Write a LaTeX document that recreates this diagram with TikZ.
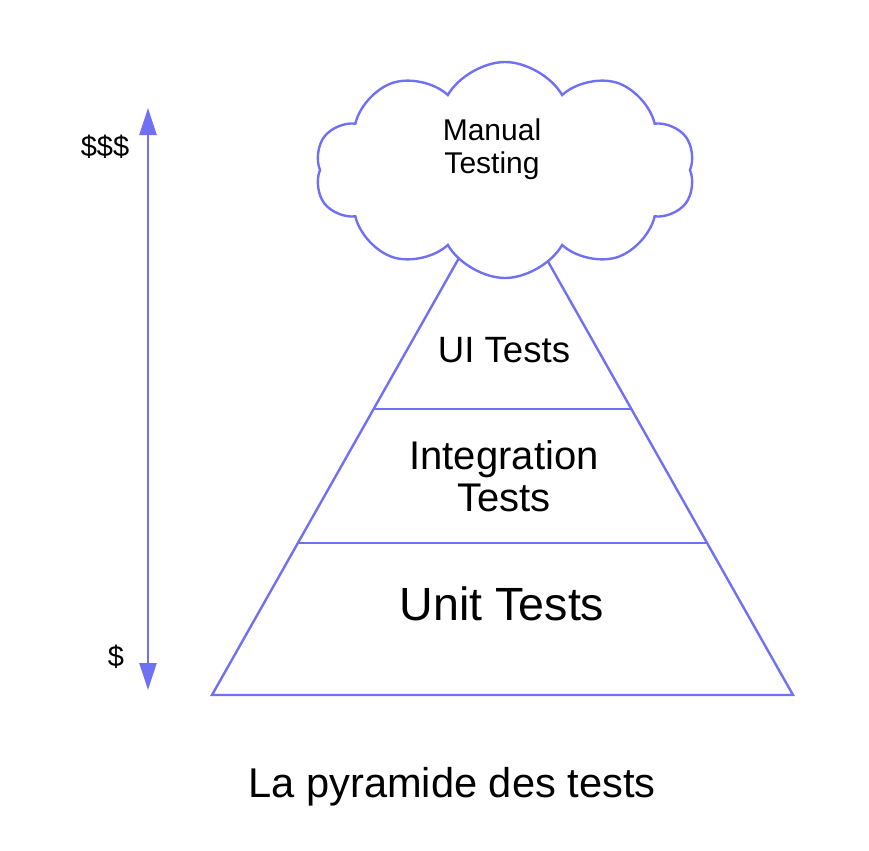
\documentclass[tikz,border=0pt]{standalone}
\usepackage{fontspec}
\setmainfont{Liberation Sans}
\usetikzlibrary{positioning, arrows.meta, shapes.symbols, calc}
\definecolor{pyrblue}{RGB}{112,112,245}

\begin{document}
\begin{tikzpicture}[
    x=0.5pt, y=-0.5pt,
    edge/.style={
        draw=pyrblue,
        line width=1.2pt
    },
    tier/.style={
        align=center,
        inner sep=0pt,
        text=black
    },
    costarrow/.style={
        {Triangle[length=13.5pt,width=8.5pt]}-{Triangle[length=13.5pt,width=8.5pt]},
        draw=pyrblue,
        line width=1.2pt
    }
]

% Frame
\useasboundingbox (0,0) rectangle (869,851);

% Pyramid
\coordinate (apex) at (502.5,181);
\coordinate (bl) at (212,695);
\coordinate (br) at (793,695);
\draw[edge] (apex) -- (bl) -- (br) -- cycle;
\draw[edge] ($(apex)!0.4436!(bl)$) -- ($(apex)!0.4436!(br)$);
\draw[edge] ($(apex)!0.7043!(bl)$) -- ($(apex)!0.7043!(br)$);

% Cloud on top
\node[cloud, edge, fill=white, cloud puffs=10, cloud puff arc=120,
      minimum width=190pt, minimum height=108pt] (cloud) at (505,170) {};

% Nodes
\node[tier, font=\fontsize{15}{16.3}\selectfont] (manual) at (492,149) {Manual\\Testing};
\node[tier, font=\fontsize{18.3}{21}\selectfont] (ui) at (504,350) {UI Tests};
\node[tier, font=\fontsize{20}{21.3}\selectfont] (integ) at (504,476) {Integration\\Tests};
\node[tier, font=\fontsize{23.3}{27}\selectfont] (unit) at (502,604) {Unit Tests};

% Cost scale
\node[tier, font=\fontsize{14.5}{17}\selectfont] (high) at (105,147) {\$\$\$};
\node[tier, font=\fontsize{14.5}{17}\selectfont] (low) at (116,657) {\$};
\coordinate (costtop) at (148,108);
\coordinate (costbot) at (148,690);
\draw[costarrow] (costbot) -- (costtop);

% Caption
\node[tier, font=\fontsize{20.8}{25}\selectfont] (caption) at (452,787) {La pyramide des tests};

\end{tikzpicture}
\end{document}
